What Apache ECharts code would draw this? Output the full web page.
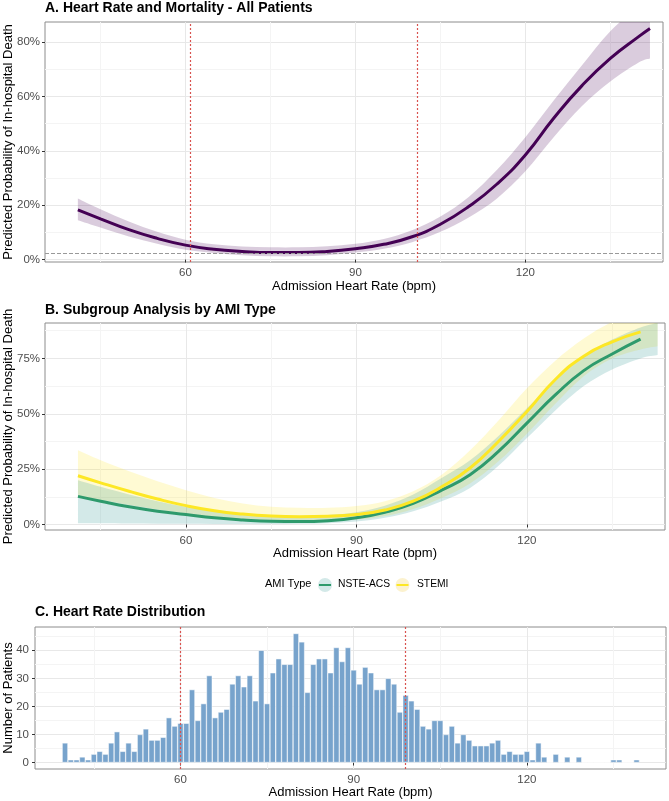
<!DOCTYPE html>
<html>
<head>
<meta charset="utf-8">
<script src="https://cdn.jsdelivr.net/npm/echarts@6/dist/echarts.min.js"></script>
<style>
    html, body { margin: 0; padding: 0; background: #fff; }
    #chart { width: 669px; height: 801px; }
</style>
</head>
<body>
<div id="chart"></div>
<script>
// ---- A. all patients (percent) ----
var hrA   = [41, 45, 50, 55, 60, 65, 70, 75, 80, 85, 90, 95, 100, 105, 110, 115, 120, 125, 130, 135, 140, 142];
var probA = [18.3, 15.0, 11.0, 7.8, 5.3, 3.8, 3.0, 2.6, 2.6, 3.0, 4.0, 5.6, 8.4, 13.0, 19.5, 27.8, 38.5, 52.0, 64.0, 74.0, 82.0, 85.0];
var loA   = [14.5, 11.8, 8.5, 5.8, 3.6, 2.4, 1.6, 1.2, 1.2, 1.6, 2.6, 4.0, 6.4, 10.2, 15.5, 22.5, 32.5, 45.0, 56.5, 65.5, 72.5, 74.0];
var hiA   = [22.5, 18.5, 14.0, 10.2, 7.3, 5.6, 4.8, 4.5, 4.5, 4.9, 5.8, 7.6, 10.8, 15.8, 23.0, 33.0, 45.0, 58.5, 71.5, 84.0, 93.0, 95.0];
var cutA = [60.9, 101];
var overallMort = 2.3;

// ---- B. by AMI type (percent) ----
var hrB     = [41, 45, 50, 55, 60, 65, 70, 75, 80, 85, 90, 95, 100, 105, 110, 115, 120, 125, 130, 135, 140];
var stemi   = [22.0, 18.8, 15.0, 11.5, 8.5, 6.2, 4.7, 3.8, 3.5, 3.7, 4.5, 6.5, 10.5, 17.0, 25.5, 37.5, 51.0, 65.5, 76.0, 82.5, 87.0];
var nste    = [12.7, 10.5, 8.0, 6.0, 4.5, 3.0, 2.0, 1.4, 1.3, 1.7, 3.0, 5.5, 9.5, 15.5, 22.5, 33.0, 45.8, 58.5, 69.5, 77.0, 83.7];
// confidence bands run a little past the line ends
var hrBand  = [41, 45, 50, 55, 60, 65, 70, 75, 80, 85, 90, 95, 100, 105, 110, 115, 120, 125, 130, 135, 140, 143];
var stemiLo = [12.5, 11.0, 8.8, 6.8, 4.8, 3.3, 2.2, 1.6, 1.4, 1.6, 2.2, 3.8, 7.0, 12.0, 18.5, 28.5, 41.0, 54.5, 67.0, 75.0, 79.0, 80.5];
var stemiHi = [33.5, 29.0, 24.0, 19.5, 15.5, 12.0, 9.5, 8.0, 7.5, 7.5, 8.3, 10.5, 15.0, 22.5, 33.5, 47.0, 61.5, 74.0, 84.0, 91.5, 96.0, 98.0];
var nsteLo  = [0.5, 0.5, 0.4, 0.3, 0.3, 0.2, 0.2, 0.2, 0.3, 0.6, 1.3, 3.0, 6.0, 10.5, 16.5, 26.5, 39.0, 51.5, 62.5, 70.0, 75.0, 76.5];
var nsteHi  = [20.0, 17.0, 13.5, 10.5, 8.0, 6.0, 4.5, 3.8, 3.8, 4.3, 5.5, 8.5, 13.5, 21.0, 29.0, 40.0, 52.5, 65.0, 76.0, 83.5, 89.0, 91.0];

// ---- C. heart rate histogram ----
var bins = [];
for (var b = 40; b <= 139; b++) bins.push(b);
var counts = [7, 1, 1, 2, 1, 3, 4, 3, 7, 11,
              4, 7, 4, 10, 12, 8, 8, 9, 16, 13,
              14, 14, 26, 15, 21, 31, 16, 18, 19, 28,
              31, 27, 31, 22, 40, 21, 32, 37, 35, 35,
              46, 43, 25, 35, 37, 37, 32, 41, 36, 41,
              33, 28, 34, 32, 26, 26, 30, 28, 18, 24,
              22, 19, 13, 12, 15, 15, 10, 13, 7, 10,
              8, 6, 6, 6, 7, 8, 3, 4, 3, 3,
              4, 1, 7, 2, 0, 3, 0, 2, 0, 2,
              0, 0, 0, 0, 0, 1, 1, 0, 0, 1];
var cutC = [60, 99];

var xMajor = [60, 90, 120];
var xMinor = [45, 75, 105, 135];

function zip(xs, ys) {
    return xs.map(function (x, i) { return [x, ys[i]]; });
}

var font = 'Liberation Sans, Arial, sans-serif';
var xName = 'Admission Heart Rate (bpm)';

function xAxes(g, min, max, gap) {
    return [{
        type: 'value', gridIndex: g, min: min, max: max, position: 'bottom',
        name: xName, nameLocation: 'middle', nameGap: gap, nameMoveOverlap: false,
        nameTextStyle: { color: '#000', fontSize: 13, fontFamily: font },
        axisLine: { show: false },
        axisTick: { show: true, length: 3, lineStyle: { color: '#333' }, customValues: xMajor },
        axisLabel: { customValues: xMajor, color: '#4d4d4d', fontSize: 11.5, fontFamily: font, margin: 5 },
        splitLine: { show: true, lineStyle: { color: '#e8e8e8', width: 1 } }
    }, {
        type: 'value', gridIndex: g, min: min, max: max, position: 'bottom',
        axisLine: { show: false }, axisLabel: { show: false },
        axisTick: { show: false, customValues: xMinor },
        splitLine: { show: true, lineStyle: { color: '#f4f4f4', width: 1 } }
    }];
}
function yAxes(g, min, max, major, minor, name, gap, fmt, margin) {
    return [{
        type: 'value', gridIndex: g, min: min, max: max,
        name: name, nameLocation: 'middle', nameGap: gap, nameMoveOverlap: false,
        nameTextStyle: { color: '#000', fontSize: 13, fontFamily: font },
        axisLine: { show: false },
        axisTick: { show: true, length: 3, lineStyle: { color: '#333' }, customValues: major },
        axisLabel: { customValues: major, color: '#4d4d4d', fontSize: 11.5, fontFamily: font, margin: margin, formatter: fmt },
        splitLine: { show: true, lineStyle: { color: '#e8e8e8', width: 1 } }
    }, {
        type: 'value', gridIndex: g, min: min, max: max,
        axisLine: { show: false }, axisLabel: { show: false },
        axisTick: { show: false, customValues: minor },
        splitLine: { show: true, lineStyle: { color: '#f4f4f4', width: 1 } }
    }];
}
var pct = function (v) { return v + '%'; };

// smooth curve through screen points (Catmull-Rom as cubic beziers)
function curve(p) {
    var s = '';
    for (var i = 0; i < p.length - 1; i++) {
        var p0 = p[Math.max(i - 1, 0)], p1 = p[i], p2 = p[i + 1], p3 = p[Math.min(i + 2, p.length - 1)];
        var c1x = p1[0] + (p2[0] - p0[0]) / 6, c1y = p1[1] + (p2[1] - p0[1]) / 6;
        var c2x = p2[0] - (p3[0] - p1[0]) / 6, c2y = p2[1] - (p3[1] - p1[1]) / 6;
        s += ' C ' + c1x + ' ' + c1y + ' ' + c2x + ' ' + c2y + ' ' + p2[0] + ' ' + p2[1];
    }
    return s;
}

function ribbon(g, xs, lo, hi, color, opacity) {
    return {
        type: 'custom', xAxisIndex: 2 * g, yAxisIndex: 2 * g, silent: true, z: 1,
        data: xs.map(function (x, i) { return [x, lo[i], hi[i]]; }),
        encode: { x: 0, y: [1, 2] },
        renderItem: function (params, api) {
            if (params.dataIndex !== 0) return null;
            var up = xs.map(function (x, i) { return api.coord([x, hi[i]]); });
            var dn = xs.map(function (x, i) { return api.coord([x, lo[i]]); }).reverse();
            var d = 'M ' + up[0][0] + ' ' + up[0][1] + curve(up) +
                    ' L ' + dn[0][0] + ' ' + dn[0][1] + curve(dn) + ' Z';
            var cs = params.coordSys;
            return {
                type: 'path', shape: { pathData: d },
                style: { fill: color, opacity: opacity },
                clipPath: { type: 'rect', shape: { x: cs.x, y: cs.y, width: cs.width, height: cs.height } }
            };
        }
    };
}

// reference lines: one host series per line so each keeps its own colour
function refLine(g, item, color, type, z, width) {
    var style = { color: color, type: type, width: width };
    item.lineStyle = style;
    return {
        type: 'line', xAxisIndex: 2 * g, yAxisIndex: 2 * g, data: [], z: z,
        color: color, itemStyle: { color: color }, lineStyle: style,
        markLine: {
            silent: true, symbol: ['none', 'none'], label: { show: false },
            itemStyle: { color: color }, lineStyle: style,
            data: [item]
        }
    };
}
var red = '#d9534f';

var series = [];
// A
series.push(ribbon(0, hrA, loA, hiA, '#440154', 0.2));
series.push({
    type: 'line', name: 'All', xAxisIndex: 0, yAxisIndex: 0,
    data: zip(hrA, probA), smooth: true, symbol: 'none', z: 3,
    lineStyle: { color: '#440154', width: 3 }
});
series.push(refLine(0, { yAxis: overallMort }, '#999', 'dashed', 1, 1));
cutA.forEach(function (x) { series.push(refLine(0, { xAxis: x }, red, [2, 2], 2, 1.2)); });
// B
series.push(ribbon(1, hrBand, stemiLo, stemiHi, '#FDE725', 0.2));
series.push(ribbon(1, hrBand, nsteLo, nsteHi, '#21908C', 0.2));
series.push({
    type: 'line', name: 'NSTE-ACS', xAxisIndex: 2, yAxisIndex: 2,
    data: zip(hrB, nste), smooth: true, symbol: 'none', z: 3,
    lineStyle: { color: '#2e9a6c', width: 3 }
});
series.push({
    type: 'line', name: 'STEMI', xAxisIndex: 2, yAxisIndex: 2,
    data: zip(hrB, stemi), smooth: true, symbol: 'none', z: 3,
    lineStyle: { color: '#FDE725', width: 3 }
});
// C
series.push({
    type: 'bar', xAxisIndex: 4, yAxisIndex: 4,
    data: zip(bins, counts), barWidth: 5.8,
    itemStyle: { color: '#77a3cc', borderColor: '#fff', borderWidth: 0.5 }
});
cutC.forEach(function (x) { series.push(refLine(2, { xAxis: x }, red, [2, 2], 3, 1.2)); });

var gridBase = { show: true, borderColor: '#8c8c8c', borderWidth: 1, backgroundColor: '#fff', containLabel: false, outerBoundsMode: 'none' };

var titleStyle = { color: '#000', fontSize: 14, fontWeight: 'bold', fontFamily: font };

var legendY = 585;
var option = {
    animation: false,
    backgroundColor: '#fff',
    title: [
        { text: 'A. Heart Rate and Mortality - All Patients', left: 45, top: 1, padding: 0, textStyle: titleStyle },
        { text: 'B. Subgroup Analysis by AMI Type', left: 45, top: 303, padding: 0, textStyle: titleStyle },
        { text: 'C. Heart Rate Distribution', left: 35, top: 605, padding: 0, textStyle: titleStyle }
    ],
    grid: [
        Object.assign({ left: 45, top: 22, width: 618, height: 240 }, gridBase),
        Object.assign({ left: 45, top: 323, width: 620, height: 207 }, gridBase),
        Object.assign({ left: 35, top: 627, width: 631, height: 142 }, gridBase)
    ],
    xAxis: [].concat(
        xAxes(0, 35.2, 144.3, 18),
        xAxes(1, 35.2, 144.3, 17),
        xAxes(2, 34.8, 144.1, 17)
    ),
    yAxis: [].concat(
        yAxes(0, -0.9, 87.4, [0, 20, 40, 60, 80], [10, 30, 50, 70], 'Predicted Probability of In-hospital Death', 30, pct, 5),
        yAxes(1, -2.5, 91, [0, 25, 50, 75], [12.5, 37.5, 62.5, 87.5], 'Predicted Probability of In-hospital Death', 30, pct, 5),
        yAxes(2, -2.3, 48.3, [0, 10, 20, 30, 40], [5, 15, 25, 35, 45], 'Number of Patients', 20, null, 6)
    ),
    graphic: [
        { type: 'text', left: 265, top: legendY - 7, style: { text: 'AMI Type', fontSize: 11, fontFamily: font, fill: '#000' } },
        { type: 'circle', shape: { cx: 325, cy: legendY, r: 7 }, style: { fill: '#d3e9e8' } },
        { type: 'line', shape: { x1: 319, y1: legendY, x2: 331, y2: legendY }, style: { stroke: '#2e9a6c', lineWidth: 2 } },
        { type: 'text', left: 338, top: legendY - 6, style: { text: 'NSTE-ACS', fontSize: 10.3, fontFamily: font, fill: '#000' } },
        { type: 'circle', shape: { cx: 402.5, cy: legendY, r: 7 }, style: { fill: '#fcf2cf' } },
        { type: 'line', shape: { x1: 396.5, y1: legendY, x2: 408.5, y2: legendY }, style: { stroke: '#FDE725', lineWidth: 2 } },
        { type: 'text', left: 417, top: legendY - 6, style: { text: 'STEMI', fontSize: 10.3, fontFamily: font, fill: '#000' } }
    ],
    series: series
};

echarts.init(document.getElementById('chart'), null, { renderer: 'canvas' }).setOption(option);
</script>
</body>
</html>
